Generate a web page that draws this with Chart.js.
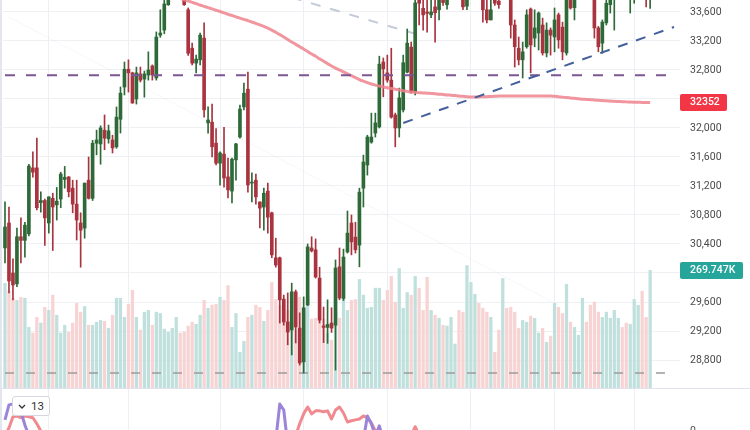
<!DOCTYPE html>
<html>
<head>
<meta charset="utf-8">
<script src="https://cdn.jsdelivr.net/npm/chart.js@4.4.1/dist/chart.umd.min.js"></script>
<style>
  html, body { margin: 0; padding: 0; background: #fff; overflow: hidden; }
  #wrap { position: relative; width: 750px; height: 430px; overflow: hidden; font-family: Roboto, sans-serif; }
  #priceChart { position: absolute; left: 0; top: 0; }
  #oscChart { position: absolute; left: 0; top: 389px; }
  #sep { position: absolute; left: 0; top: 388px; width: 750px; height: 1px; background: #e0e3eb; }
  #edge { position: absolute; left: 0; top: 0; width: 2px; height: 430px; background: #e3e6ee; }
  #len { position: absolute; left: 12px; top: 396px; height: 18px; padding: 0 5px; border: 1px solid #d4d7de;
         border-radius: 3px; background: #fff; font-size: 11.5px; color: #333; display: flex; align-items: center; gap: 5px; }
</style>
</head>
<body>
<div id="wrap">
  <canvas id="priceChart" width="750" height="388"></canvas>
  <div id="sep"></div>
  <canvas id="oscChart" width="750" height="60"></canvas>
  <div id="edge"></div>
  <div id="len"><svg width="8" height="5" viewBox="0 0 8 5"><path d="M1 1l3 3 3-3" fill="none" stroke="#333" stroke-width="1.3"/></svg><span>13</span></div>
</div>
<script>
// bar slots (7 empty ones on the right, like the chart's margin)
const labels = Array.from({ length: 170 }, (_, i) => String(i + 1));

// daily candles
const openV = [
  30346, 30690, 30000, 29850, 30500, 30450, 30540, 31450, 31450, 30970,
  31000, 30690, 31030, 30940, 31020, 31290, 31325, 31170, 30950, 30690,
  30620, 31280, 31030, 31790, 31780, 31970, 31850, 31835, 31740, 32120,
  32565, 32810, 32760, 32400, 32745, 32675, 32730, 32855, 32690, 33280,
  33350, 33700, 33850, 34020, 34150, 33780, 33630, 33100, 32895, 32940,
  33240, 32070, 32080, 31790, 31515, 31640, 31325, 31130, 31560, 31875,
  32290, 32535, 31240, 31280, 30980, 30910, 31130, 30830, 30210, 30210,
  29640, 29325, 29215, 29740, 29240, 28775, 29560, 30345, 30320, 29930,
  29270, 29250, 29310, 29280, 30085, 29650, 30290, 30690, 30495, 30385,
  31170, 31490, 31805, 31930, 32015, 32910, 32760, 32660, 32180, 32000,
  32250, 32770, 33115, 32495, 33780, 33650, 33600, 33560, 33670, 33630,
  33800, 33700, 33790, 33980, 34080, 33850, 33680, 33800, 34050, 34150,
  33800, 33630, 33490, 33780, 33750, 33790, 33950, 33800, 33420, 33100,
  32940, 33120, 33640, 33240, 33310, 33420, 33035, 33350, 33255, 33560,
  33390, 33035, 33800, 33660, 33790, 33930, 34050, 33950, 33800, 33380,
  33170, 33450, 33700, 33800, 33850, 34000, 33950, 33850, 33800, 33880,
  33980, 33850, 33780
];
const highV = [
  30980, 30910, 30195, 30620, 30760, 30700, 31500, 31670, 31860, 31120,
  31020, 31050, 31100, 31180, 31390, 31470, 31330, 31280, 31280, 30830,
  31240, 31600, 31830, 31970, 32030, 32180, 32040, 31900, 32290, 32565,
  32910, 32940, 32770, 32840, 32840, 32785, 33050, 32870, 33325, 33630,
  33760, 33900, 34100, 34280, 34200, 33850, 33655, 33170, 33005, 33310,
  33450, 32290, 32330, 31990, 31670, 32010, 31585, 31585, 31790, 32315,
  32620, 32770, 31380, 31365, 30980, 31170, 31240, 30840, 30480, 30220,
  29695, 29725, 29860, 29765, 29450, 29670, 30400, 30500, 30470, 30080,
  29530, 29630, 29520, 30180, 30345, 30330, 30855, 30800, 30700, 31170,
  31625, 31900, 32205, 32205, 32990, 32965, 33005, 33100, 32205, 32550,
  33005, 33365, 33185, 33790, 33900, 33800, 33800, 33850, 33850, 33900,
  33950, 33950, 34050, 34150, 34200, 34000, 33950, 34100, 34250, 34200,
  33950, 33800, 33800, 33900, 33900, 34000, 34050, 33950, 33490, 33255,
  33185, 33630, 33655, 33630, 33600, 33515, 33450, 33380, 33655, 33585,
  33460, 33850, 33950, 33900, 34000, 34100, 34150, 34050, 33950, 33400,
  33490, 33850, 33900, 33950, 34100, 34150, 34050, 34000, 33950, 34050,
  34100, 33950, 34000
];
const lowV = [
  30139, 29725, 29628, 29810, 30140, 30220, 30510, 31320, 30870, 30840,
  30380, 30550, 30310, 30730, 30900, 31170, 31050, 30830, 30455, 30080,
  30480, 31020, 31000, 31630, 31500, 31700, 31790, 31655, 31720, 31930,
  32455, 32495, 32340, 32330, 32635, 32425, 32660, 32660, 32660, 33250,
  33300, 33690, 33800, 33950, 33900, 33690, 33000, 32870, 32760, 32870,
  32150, 31930, 31600, 31490, 31210, 31185, 31035, 30965, 31280, 31860,
  32250, 31115, 30980, 30950, 30620, 30590, 30550, 30210, 30080, 29310,
  29280, 29010, 28870, 29035, 28730, 28620, 29550, 30290, 29930, 29310,
  29040, 29030, 29180, 28660, 29630, 29620, 30275, 30250, 30275, 30085,
  30910, 31350, 31790, 31875, 32000, 32430, 32630, 32135, 31740, 31875,
  32220, 32760, 32480, 32455, 33420, 33350, 33320, 33520, 33185, 33490,
  33690, 33640, 33780, 33850, 33880, 33630, 33630, 33790, 33900, 33850,
  33460, 33450, 33490, 33690, 33650, 33780, 33800, 33240, 32840, 32870,
  32690, 33100, 32760, 33120, 33075, 33005, 32980, 33005, 33050, 33100,
  32940, 33005, 33640, 33490, 33780, 33850, 33880, 33800, 33240, 33050,
  33030, 33420, 33585, 33350, 33820, 33880, 33800, 33585, 33720, 33820,
  33850, 33670, 33650
];
const closeV = [
  30635, 29890, 29835, 30500, 30450, 30660, 31475, 31390, 30900, 31000,
  30760, 31050, 30910, 30990, 31365, 31320, 31120, 30950, 30730, 30590,
  31240, 31030, 31790, 31835, 32000, 31860, 31960, 31725, 32150, 32480,
  32810, 32760, 32345, 32760, 32660, 32745, 32800, 32730, 33255, 33310,
  33710, 33830, 34020, 34150, 33950, 33700, 33030, 32895, 32950, 33280,
  32250, 32110, 31740, 31515, 31655, 31310, 31145, 31570, 31780, 32260,
  32480, 31215, 31250, 31050, 30895, 31100, 30770, 30250, 30110, 29630,
  29325, 29185, 29740, 29255, 28760, 29520, 30360, 30305, 29945, 29350,
  29250, 29290, 29240, 30070, 29655, 30220, 30550, 30430, 30320, 31115,
  31530, 31875, 31875, 32070, 32880, 32815, 32660, 32150, 32000, 32415,
  32900, 33170, 32495, 33725, 33720, 33560, 33580, 33600, 33590, 33770,
  33730, 33780, 33980, 34080, 33900, 33670, 33800, 34050, 34150, 33900,
  33630, 33490, 33630, 33720, 33700, 33950, 33850, 33420, 33120, 32940,
  33050, 33560, 33145, 33380, 33585, 33035, 33350, 33280, 33490, 33215,
  33050, 33780, 33655, 33780, 33930, 34050, 33950, 33850, 33380, 33120,
  33460, 33720, 33800, 33850, 34000, 33950, 33880, 33900, 33850, 33980,
  33900, 33800, 33900
];
// volume in thousands
const volK = [
  240, 222, 206, 201, 208, 206, 139, 126, 162, 149,
  185, 178, 213, 167, 126, 144, 128, 149, 194, 174,
  187, 144, 144, 151, 155, 153, 137, 167, 206, 206,
  162, 192, 224, 162, 133, 174, 178, 144, 174, 171,
  135, 128, 137, 162, 126, 128, 142, 151, 146, 167,
  201, 183, 190, 192, 208, 201, 235, 139, 171, 82,
  107, 162, 167, 190, 185, 153, 178, 242, 203, 190,
  190, 178, 139, 133, 208, 181, 210, 158, 160, 190,
  158, 126, 110, 178, 160, 208, 178, 201, 203, 249,
  213, 183, 185, 229, 229, 201, 224, 256, 197, 274,
  183, 219, 213, 256, 229, 178, 254, 178, 167, 160,
  144, 142, 162, 101, 178, 174, 281, 242, 215, 194,
  183, 174, 162, 82, 133, 251, 183, 185, 174, 137,
  155, 151, 165, 160, 126, 137, 105, 119, 194, 185,
  171, 238, 151, 139, 121, 206, 151, 190, 197, 174,
  162, 174, 160, 178, 160, 139, 149, 146, 203, 190,
  222, 162, 269.747
];
// moving average, enters the view at bar 44
const ma200 = Array(43).fill(null).concat([
  33806, 33788, 33769, 33751, 33733, 33715, 33696,
  33678, 33660, 33642, 33624, 33606, 33588, 33569, 33551, 33533, 33515,
  33497, 33480, 33462, 33443, 33423, 33401, 33377, 33350, 33320, 33288,
  33255, 33221, 33187, 33153, 33121, 33088, 33055, 33020, 32989, 32954,
  32921, 32888, 32855, 32826, 32800, 32774, 32747, 32721, 32694, 32668,
  32645, 32625, 32607, 32591, 32577, 32565, 32554, 32545, 32535, 32524,
  32514, 32505, 32495, 32491, 32487, 32482, 32480, 32476, 32472, 32466,
  32462, 32456, 32452, 32447, 32441, 32437, 32431, 32427, 32427, 32428,
  32430, 32432, 32434, 32437, 32441, 32441, 32441, 32441, 32441, 32441,
  32441, 32441, 32441, 32441, 32441, 32441, 32441, 32441, 32436, 32430,
  32425, 32419, 32414, 32409, 32404, 32397, 32394, 32390, 32386, 32382,
  32378, 32374, 32371, 32368, 32365, 32363, 32360, 32357, 32355, 32354,
  32353, 32352, 32352
]);

const priceTicks = [28800, 29200, 29600, 30000, 30400, 30800, 31200, 31600, 32000, 32400, 32800, 33200, 33600];
const monthStarts = [11, 31, 54, 75, 96, 117, 138, 158];

// drawings: [bar index, price]
const supportLevel = 32727;
const lowGuide = 28621;
const trendUp = [[100, 32069], [168, 33393]];
const trendDown = [[72, 33800], [104, 33283]];
const faintLine = [[1, 33530], [139, 29559]];

// oscillator pane, only the peaks poke into view
const purpleIdx = [0, 1, 2, 3, 4, 5, 6, 7, 67, 68, 69, 70, 71, 89, 90, 91, 92, 93, 94, 95];
const purpleVal = [28, 63, 65, 61, 47, 16, -9, -20, -30, -19, 65, 51, -30, -25, -19, 37, 19, -9, 14, -19];
const redIdx = [0, 1, 2, 3, 4, 5, 6, 7, 8, 9, 10,
  72, 73, 74, 75, 76, 77, 78, 79, 80, 81, 82, 83, 84, 85, 86, 87, 88, 89, 90, 91, 92, 93, 94,
  102, 103, 104];
const redVal = [-9, 9, 35, 37, 33, 37, 35, 33, 19, 2, -14,
  -20, -9, 19, 42, 58, 42, 49, 49, 47, 49, 30, 51, 58, 44, 23, 26, 28, 30, 37, 33, 21, 2, -19,
  -9, 12, -9];

const GREEN = '#2e6a38', RED = '#a9343f';
const up = i => closeV[i] >= openV[i];
const pts = arr => arr.map(([i, v]) => ({ x: labels[i], y: v }));
const fillSeries = (idx, vals) => {
  const out = Array(closeV.length).fill(null);
  idx.forEach((k, j) => { out[k] = vals[j]; });
  return out;
};

Chart.defaults.font.family = 'Roboto, sans-serif';
Chart.defaults.font.size = 10.5;
Chart.defaults.color = '#4a4a4a';

const xAxis = {
  offset: true,
  grid: {
    offset: false,
    drawTicks: false,
    color: ctx => monthStarts.includes(ctx.index) ? '#eceff4' : 'rgba(0,0,0,0)'
  },
  border: { display: false },
  ticks: { display: false, autoSkip: false }
};
const fixAxis = s => { s.width = 70; s.paddingTop = 0; s.paddingBottom = 0; };

// last value boxes on the price axis
const lastValueLabels = {
  id: 'lastValueLabels',
  afterDraw(chart) {
    const { ctx, chartArea } = chart;
    const maLast = ma200[ma200.length - 1];
    const volLast = volK[volK.length - 1];
    const boxes = [
      { text: String(maLast), y: chart.scales.y.getPixelForValue(maLast), w: 47, bg: '#f23645' },
      { text: volLast.toFixed(3) + 'K', y: chart.scales.yv.getPixelForValue(volLast), w: 63, bg: '#26a69a' }
    ];
    ctx.save();
    ctx.font = '500 10.5px Roboto, sans-serif';
    ctx.textBaseline = 'middle';
    boxes.forEach(b => {
      ctx.fillStyle = b.bg;
      ctx.beginPath();
      ctx.roundRect(chartArea.right, Math.round(b.y) - 8, b.w, 17, 2);
      ctx.fill();
      ctx.fillStyle = '#fff';
      ctx.fillText(b.text, chartArea.right + 10, Math.round(b.y) + 0.5);
    });
    ctx.restore();
  }
};

new Chart(document.getElementById('priceChart'), {
  type: 'bar',
  data: {
    labels,
    datasets: [
      { type: 'line', data: pts(trendUp), borderColor: '#44609c', borderWidth: 2, borderDash: [10, 9],
        pointRadius: 0, yAxisID: 'y', order: 0 },
      { type: 'line', data: pts([[0, supportLevel], [168, supportLevel]]), borderColor: '#7d5694', borderWidth: 2,
        borderDash: [10, 11], pointRadius: 0, yAxisID: 'y', order: 0 },
      { type: 'line', data: ma200, borderColor: 'rgba(238,132,142,0.85)', borderWidth: 3, pointRadius: 0,
        tension: 0.4, yAxisID: 'y', order: 1 },
      { data: openV.map((o, i) => [o, closeV[i]]), backgroundColor: ctx => up(ctx.dataIndex) ? GREEN : RED,
        barThickness: 3, minBarLength: 1, grouped: false, yAxisID: 'y', order: 2 },
      { data: lowV.map((l, i) => [l, highV[i]]), backgroundColor: ctx => up(ctx.dataIndex) ? GREEN : RED,
        barThickness: 1, grouped: false, yAxisID: 'y', order: 3 },
      { type: 'line', data: pts(trendDown), borderColor: '#c3cbd8', borderWidth: 2, borderDash: [10, 10],
        pointRadius: 0, yAxisID: 'y', order: 4 },
      { type: 'line', data: pts(faintLine), borderColor: 'rgba(170,175,190,0.1)', borderWidth: 1,
        pointRadius: 0, yAxisID: 'y', order: 4 },
      { type: 'line', data: pts([[0, lowGuide], [168, lowGuide]]), borderColor: '#9c9c9c', borderWidth: 1.5,
        borderDash: [9, 12], pointRadius: 0, yAxisID: 'y', order: 4 },
      { data: volK, backgroundColor: ctx => up(ctx.dataIndex) ? '#bfe0dc' : '#f8d3d3',
        barThickness: 2.6, grouped: false, yAxisID: 'yv', order: 10 }
    ]
  },
  options: {
    responsive: false,
    devicePixelRatio: 1,
    animation: false,
    events: [],
    layout: { padding: { left: 3, right: 0, top: 0, bottom: 0 } },
    plugins: { legend: { display: false }, tooltip: { enabled: false } },
    scales: {
      x: xAxis,
      y: {
        position: 'right',
        min: 28414,
        max: 33765,
        afterBuildTicks: s => { s.ticks = priceTicks.map(v => ({ value: v })); },
        afterFit: fixAxis,
        grid: { color: '#eef0f4', drawTicks: false },
        border: { display: false },
        ticks: { padding: 10, color: '#4a4a4a' }
      },
      yv: { display: false, min: 0, max: 890 }
    }
  },
  plugins: [lastValueLabels]
});

new Chart(document.getElementById('oscChart'), {
  type: 'line',
  data: {
    labels,
    datasets: [
      { data: fillSeries(purpleIdx, purpleVal), borderColor: '#9c85d9', borderWidth: 3, pointRadius: 0,
        borderJoinStyle: 'round' },
      { data: fillSeries(redIdx, redVal), borderColor: '#f08a8f', borderWidth: 3, pointRadius: 0,
        borderJoinStyle: 'round' }
    ]
  },
  options: {
    responsive: false,
    devicePixelRatio: 1,
    animation: false,
    events: [],
    layout: { padding: { left: 3, right: 0, top: 0, bottom: 0 } },
    plugins: { legend: { display: false }, tooltip: { enabled: false } },
    scales: {
      x: xAxis,
      y: {
        position: 'right',
        min: -40,
        max: 100,
        afterBuildTicks: s => { s.ticks = [{ value: 0 }]; },
        afterFit: fixAxis,
        grid: { display: false, drawTicks: false },
        border: { display: false },
        ticks: { padding: 10, color: '#4a4a4a' }
      }
    }
  }
});
</script>
</body>
</html>
